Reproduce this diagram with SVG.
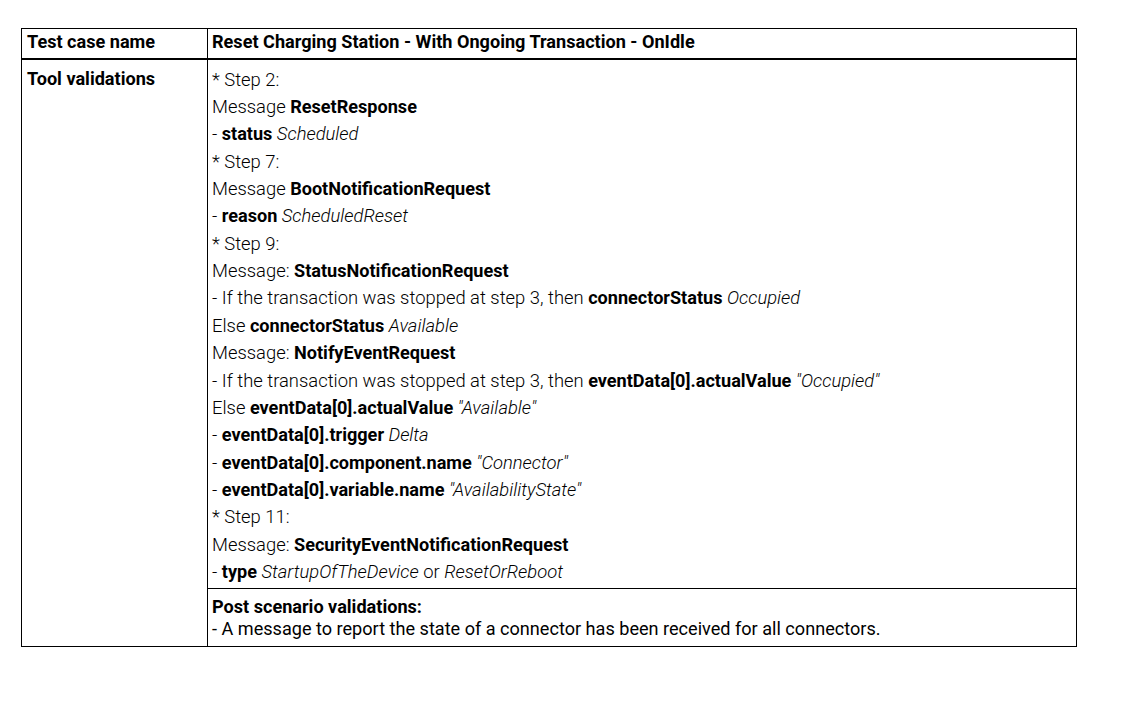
<svg xmlns="http://www.w3.org/2000/svg" width="1132" height="708" viewBox="0 0 1132 708">
<style>
text{font-family:Roboto,"Liberation Sans",sans-serif;font-size:18.1px;fill:#000}
.l{font-weight:300;font-size:18.4px}
.r{font-weight:400}
.b{font-weight:700}
.i{font-style:italic;font-weight:300;font-size:18.4px}
.ln{stroke:#000;stroke-width:1;fill:none}
</style>
<rect width="1132" height="708" fill="#fff"/>
<g id="grid">
<rect class="ln" x="21.5" y="28.5" width="1055" height="618"/>
<line class="ln" x1="207.5" y1="28.5" x2="207.5" y2="646.5"/>
<line x1="21.5" y1="59" x2="1076.5" y2="59" stroke="#000" stroke-width="2"/>
<line class="ln" x1="207.5" y1="588.5" x2="1076.5" y2="588.5"/>
</g>
<g id="header">
<text x="27" y="48" class="b">Test case name</text>
<text x="212" y="48" class="b">Reset Charging Station - With Ongoing Transaction - OnIdle</text>
</g>
<g id="label">
<text x="27" y="85" class="b">Tool validations</text>
</g>
<g id="validations">
<text x="212" y="86" class="l">* Step 2:</text>
<text x="212" y="113"><tspan class="l">Message </tspan><tspan class="b">ResetResponse</tspan></text>
<text x="212" y="140"><tspan class="l">- </tspan><tspan class="b">status</tspan><tspan class="i"> Scheduled</tspan></text>
<text x="212" y="168" class="l">* Step 7:</text>
<text x="212" y="195"><tspan class="l">Message </tspan><tspan class="b">BootNotificationRequest</tspan></text>
<text x="212" y="222"><tspan class="l">- </tspan><tspan class="b">reason</tspan><tspan class="i"> ScheduledReset</tspan></text>
<text x="212" y="250" class="l">* Step 9:</text>
<text x="212" y="277"><tspan class="l">Message: </tspan><tspan class="b">StatusNotificationRequest</tspan></text>
<text x="212" y="304"><tspan class="l">- If the transaction was stopped at step 3, then </tspan><tspan class="b">connectorStatus</tspan><tspan class="i"> Occupied</tspan></text>
<text x="212" y="332"><tspan class="l">Else </tspan><tspan class="b">connectorStatus</tspan><tspan class="i"> Available</tspan></text>
<text x="212" y="359"><tspan class="l">Message: </tspan><tspan class="b">NotifyEventRequest</tspan></text>
<text x="212" y="387"><tspan class="l">- If the transaction was stopped at step 3, then </tspan><tspan class="b">eventData[0].actualValue</tspan><tspan class="i"> "Occupied"</tspan></text>
<text x="212" y="414"><tspan class="l">Else </tspan><tspan class="b">eventData[0].actualValue</tspan><tspan class="i"> "Available"</tspan></text>
<text x="212" y="441"><tspan class="l">- </tspan><tspan class="b">eventData[0].trigger</tspan><tspan class="i"> Delta</tspan></text>
<text x="212" y="469"><tspan class="l">- </tspan><tspan class="b">eventData[0].component.name</tspan><tspan class="i"> "Connector"</tspan></text>
<text x="212" y="496"><tspan class="l">- </tspan><tspan class="b">eventData[0].variable.name</tspan><tspan class="i"> "AvailabilityState"</tspan></text>
<text x="212" y="523" class="l">* Step 11:</text>
<text x="212" y="551"><tspan class="l">Message: </tspan><tspan class="b">SecurityEventNotificationRequest</tspan></text>
<text x="212" y="578"><tspan class="l">- </tspan><tspan class="b">type</tspan><tspan class="i"> StartupOfTheDevice</tspan><tspan class="l"> or </tspan><tspan class="i">ResetOrReboot</tspan></text>
</g>
<g id="post">
<text x="212" y="613" class="b">Post scenario validations:</text>
<text x="212" y="635" class="r">- A message to report the state of a connector has been received for all connectors.</text>
</g>
</svg>
